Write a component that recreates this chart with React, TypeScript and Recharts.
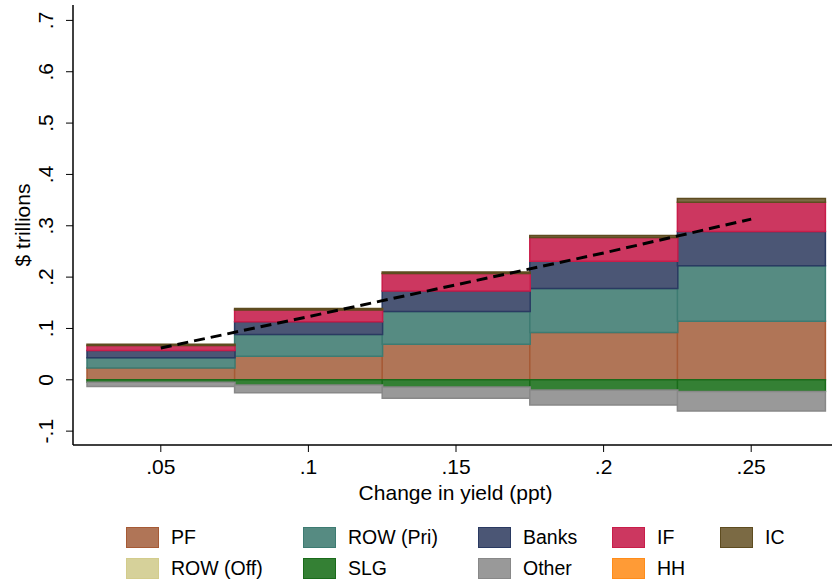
import { Bar, ComposedChart, Line, XAxis, YAxis, Label } from "recharts";

const categories = [".05", ".1", ".15", ".2", ".25"];

const pf = [0.023, 0.046, 0.069, 0.092, 0.114];
const rowPri = [0.02, 0.042, 0.064, 0.086, 0.108];
const banks = [0.014, 0.025, 0.04, 0.053, 0.067];
const inf = [0.01, 0.023, 0.034, 0.046, 0.057];
const ic = [0.002, 0.003, 0.003, 0.004, 0.007];
const rowOff = [0, 0, 0, 0, 0];
const slg = [-0.005, -0.01, -0.014, -0.02, -0.023];
const other = [-0.008, -0.015, -0.022, -0.029, -0.038];
const hh = [0, 0, 0, 0, 0];
const fitted = [0.062, 0.123, 0.185, 0.247, 0.313];

const yTicks = [-0.1, 0, 0.1, 0.2, 0.3, 0.4, 0.5, 0.6, 0.7];

type Series = { key: string; name: string; values: number[]; fill: string; stroke: string };

const series: Series[] = [
  { key: "pf", name: "PF", values: pf, fill: "#b07557", stroke: "#a65a35" },
  { key: "rowPri", name: "ROW (Pri)", values: rowPri, fill: "#568b82", stroke: "#3d7b72" },
  { key: "banks", name: "Banks", values: banks, fill: "#4b5675", stroke: "#2a3a62" },
  { key: "inf", name: "IF", values: inf, fill: "#cc3760", stroke: "#c91d4a" },
  { key: "ic", name: "IC", values: ic, fill: "#7b6a44", stroke: "#5e4c20" },
  { key: "rowOff", name: "ROW (Off)", values: rowOff, fill: "#d6d19a", stroke: "#d3cc8c" },
  { key: "slg", name: "SLG", values: slg, fill: "#348034", stroke: "#1a6b1a" },
  { key: "other", name: "Other", values: other, fill: "#999999", stroke: "#888888" },
  { key: "hh", name: "HH", values: hh, fill: "#ff9b36", stroke: "#ff8c1a" },
];

const data = categories.map((c, i) => {
  const row: Record<string, number | string> = { cat: c, fitted: fitted[i] };
  series.forEach((s) => (row[s.key] = s.values[i]));
  return row;
});

const FONT = "'Liberation Sans', Arial, sans-serif";

const fmtY = (v: number) => {
  if (v === 0) return "0";
  const s = String(Math.round(v * 10) / 10);
  return s.replace("0.", ".");
};

function XTick(props: any) {
  const { x, y, payload } = props;
  return (
    <text x={x} y={y + 20} textAnchor="middle" fontSize={21} fill="#000" fontFamily={FONT}>
      {payload.value}
    </text>
  );
}

function YTick(props: any) {
  const { x, y, payload } = props;
  return (
    <text
      transform={`translate(${x - 11},${y}) rotate(-90)`}
      textAnchor="middle"
      fontSize={21}
      fill="#000"
      fontFamily={FONT}
    >
      {fmtY(payload.value)}
    </text>
  );
}

// legend order follows the reference: two rows of five / four
const legendRows = [
  ["pf", "rowPri", "banks", "inf", "ic"],
  ["rowOff", "slg", "other", "hh"],
];
const colLeft = [126, 303, 478, 612, 720];

export default function App() {
  return (
    <div style={{ position: "relative", width: 833, height: 584, fontFamily: FONT }}>
      <style>{"body{margin:0}"}</style>
      <ComposedChart
        width={833}
        height={520}
        data={data}
        stackOffset="sign"
        barCategoryGap={0}
        barGap={0}
        margin={{ top: 5, right: 1, left: 0, bottom: 0 }}
      >
        <XAxis
          dataKey="cat"
          height={75}
          padding={{ left: 14, right: 7 }}
          tickSize={7}
          tickLine={{ stroke: "#000" }}
          axisLine={{ stroke: "#000", strokeWidth: 1.5 }}
          tick={<XTick />}
          interval={0}
        >
          <Label
            content={(p: any) => {
              const vb = p.viewBox;
              return (
                <text
                  x={vb.x + vb.width / 2 + 3}
                  y={vb.y + 55}
                  textAnchor="middle"
                  fontSize={21}
                  fill="#000"
                  fontFamily={FONT}
                >
                  Change in yield (ppt)
                </text>
              );
            }}
          />
        </XAxis>
        <YAxis
          width={73}
          domain={[-0.127, 0.73]}
          ticks={yTicks}
          allowDataOverflow
          tickSize={7}
          tickLine={{ stroke: "#000" }}
          axisLine={{ stroke: "#000", strokeWidth: 1.5 }}
          tick={<YTick />}
        >
          <Label
            content={(p: any) => {
              const vb = p.viewBox;
              const cy = vb.y + vb.height / 2;
              return (
                <text
                  transform={`translate(30,${cy}) rotate(-90)`}
                  textAnchor="middle"
                  fontSize={21}
                  fill="#000"
                  fontFamily={FONT}
                >
                  $ trillions
                </text>
              );
            }}
          />
        </YAxis>
        {series.map((s) => (
          <Bar
            key={s.key}
            dataKey={s.key}
            name={s.name}
            stackId="a"
            fill={s.fill}
            stroke={s.stroke}
            strokeWidth={1.5}
            isAnimationActive={false}
          />
        ))}
        <Line
          dataKey="fitted"
          stroke="#000"
          strokeWidth={3}
          strokeDasharray="11 6"
          dot={false}
          activeDot={false}
          isAnimationActive={false}
        />
      </ComposedChart>
      {legendRows.map((row, r) =>
        row.map((k, c) => {
          const s = series.find((x) => x.key === k)!;
          const top = 526 + r * 31;
          return (
            <div
              key={k}
              style={{
                position: "absolute",
                left: colLeft[c],
                top,
                height: 22,
                display: "flex",
                alignItems: "center",
                whiteSpace: "nowrap",
              }}
            >
              <span
                style={{
                  width: 31,
                  height: 19,
                  background: s.fill,
                  border: `1.5px solid ${s.stroke}`,
                  display: "inline-block",
                }}
              />
              <span style={{ marginLeft: 12, fontSize: 19.5, color: "#000" }}>{s.name}</span>
            </div>
          );
        })
      )}
    </div>
  );
}
